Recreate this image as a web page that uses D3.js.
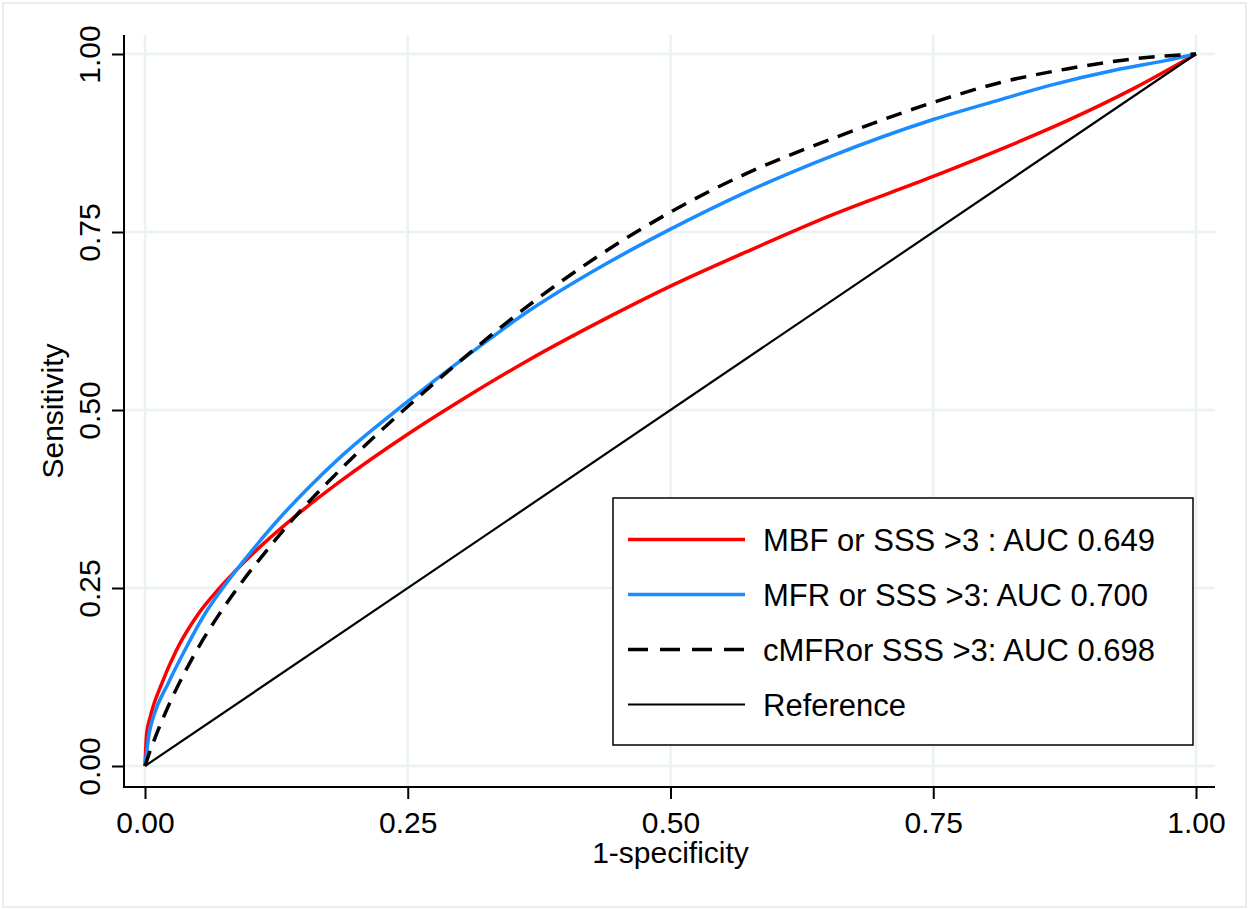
<!DOCTYPE html>
<html>
<head>
<meta charset="utf-8">
<style>
  body { margin: 0; background: #fff; }
  text { font-family: "Liberation Sans", Arial, sans-serif; fill: #000; }
</style>
</head>
<body>
<div id="roc"></div>
<script src="https://d3js.org/d3.v7.min.js"></script>
<script>

// ROC curves (1-specificity, sensitivity)

var mbfX = [0, 0.0016, 0.005, 0.016, 0.030, 0.049, 0.071, 0.106, 0.144, 0.186, 0.25, 0.30, 0.366, 0.43, 0.5, 0.572, 0.652, 0.75, 0.814, 0.877, 0.94, 1];
var mbfY = [0, 0.046, 0.069, 0.116, 0.163, 0.21, 0.25, 0.303, 0.352, 0.400, 0.466, 0.513, 0.571, 0.622, 0.674, 0.722, 0.773, 0.828, 0.866, 0.906, 0.951, 1];

var mfrX = [0, 0.004, 0.008, 0.022, 0.038, 0.0555, 0.076, 0.1015, 0.128, 0.157, 0.189, 0.25, 0.30, 0.366, 0.43, 0.5, 0.572, 0.652, 0.75, 0.814, 0.861, 0.9245, 0.972, 1];
var mfrY = [0, 0.046, 0.069, 0.116, 0.163, 0.21, 0.254, 0.302, 0.348, 0.393, 0.438, 0.512, 0.569, 0.640, 0.698, 0.754, 0.806, 0.856, 0.908, 0.936, 0.956, 0.978, 0.991, 1];

var cmfrX = [0, 0.005, 0.011, 0.024, 0.038, 0.055, 0.071, 0.091, 0.116, 0.141, 0.173, 0.205, 0.25, 0.30, 0.366, 0.43, 0.5, 0.572, 0.652, 0.75, 0.814, 0.877, 0.94, 1];
var cmfrY = [0, 0.022, 0.045, 0.090, 0.132, 0.177, 0.214, 0.256, 0.303, 0.347, 0.397, 0.444, 0.505, 0.569, 0.648, 0.715, 0.778, 0.832, 0.880, 0.932, 0.960, 0.979, 0.993, 1];

var refX = [0, 1];
var refY = [0, 1];

var seriesNames = ["MBF or SSS >3 : AUC 0.649",
                   "MFR or SSS >3: AUC 0.700",
                   "cMFRor SSS >3: AUC 0.698",
                   "Reference"];

var ticks = [0, 0.25, 0.5, 0.75, 1];
var tickLabels = ["0.00", "0.25", "0.50", "0.75", "1.00"];

// *****************
// Layout
// *****************

var W = 1248, H = 909;
var plotL = 124, plotR = 1215, plotT = 35, plotB = 787;

var x = d3.scaleLinear().domain([0, 1]).range([145, 1196]);
var y = d3.scaleLinear().domain([0, 1]).range([766, 54]);

var svg = d3.select("#roc").append("svg")
    .attr("width", W)
    .attr("height", H);

// outer frame
svg.append("rect")
    .attr("x", 3).attr("y", 3)
    .attr("width", 1243).attr("height", 904)
    .attr("fill", "#fff")
    .attr("stroke", "#e6eef0")
    .attr("stroke-width", 2);

// grid
var grid = svg.append("g").attr("stroke", "#eaf2f3").attr("stroke-width", 2.5);
grid.selectAll(".vg").data(ticks).enter().append("line")
    .attr("x1", function(d) { return x(d); })
    .attr("x2", function(d) { return x(d); })
    .attr("y1", plotT).attr("y2", plotB);
grid.selectAll(".hg").data(ticks).enter().append("line")
    .attr("y1", function(d) { return y(d); })
    .attr("y2", function(d) { return y(d); })
    .attr("x1", plotL).attr("x2", plotR);

// *****************
// Axes
// *****************

var yAxis = svg.append("g")
    .attr("transform", "translate(" + plotL + ",0)")
    .call(d3.axisLeft(y).tickValues(ticks)
          .tickFormat(function(d, i) { return tickLabels[i]; })
          .tickSize(12).tickSizeOuter(0));
yAxis.select(".domain").remove();
yAxis.selectAll("line").attr("stroke", "#000").attr("stroke-width", 2);
yAxis.selectAll("text")
    .attr("x", null).attr("dy", null)
    .attr("transform", "translate(-24,0) rotate(-90)")
    .attr("text-anchor", "middle")
    .attr("font-size", 30)
    .attr("font-family", "Liberation Sans, Arial, sans-serif");

var xAxis = svg.append("g")
    .attr("transform", "translate(0," + plotB + ")")
    .call(d3.axisBottom(x).tickValues(ticks)
          .tickFormat(function(d, i) { return tickLabels[i]; })
          .tickSize(12).tickSizeOuter(0));
xAxis.select(".domain").remove();
xAxis.selectAll("line").attr("stroke", "#000").attr("stroke-width", 2);
xAxis.selectAll("text")
    .attr("y", 46).attr("dy", null)
    .attr("font-size", 30)
    .attr("font-family", "Liberation Sans, Arial, sans-serif");

// axis lines
svg.append("line")
    .attr("x1", plotL).attr("x2", plotL)
    .attr("y1", plotT).attr("y2", plotB + 1)
    .attr("stroke", "#000").attr("stroke-width", 2);
svg.append("line")
    .attr("x1", plotL - 1).attr("x2", plotR)
    .attr("y1", plotB).attr("y2", plotB)
    .attr("stroke", "#000").attr("stroke-width", 2);

// titles
svg.append("text")
    .attr("transform", "translate(63," + ((plotT + plotB) / 2) + ") rotate(-90)")
    .attr("text-anchor", "middle")
    .attr("font-size", 30)
    .text("Sensitivity");

svg.append("text")
    .attr("x", (x(0) + x(1)) / 2)
    .attr("y", 863)
    .attr("text-anchor", "middle")
    .attr("font-size", 30)
    .text("1-specificity");

// *****************
// Curves
// *****************

function pts(xs, ys) {
  return xs.map(function(v, i) { return [v, ys[i]]; });
}

var series = [
  {data: pts(mbfX, mbfY),   color: "#ff0000", width: 3.5, dash: null},
  {data: pts(mfrX, mfrY),   color: "#1a8cff", width: 3.5, dash: null},
  {data: pts(cmfrX, cmfrY), color: "#000000", width: 3.5, dash: "16,10"},
  {data: pts(refX, refY),   color: "#000000", width: 2.2, dash: null}
];

var line = d3.line()
    .x(function(d) { return x(d[0]); })
    .y(function(d) { return y(d[1]); })
    .curve(d3.curveMonotoneX);

svg.selectAll(".curve").data(series).enter().append("path")
    .attr("class", "curve")
    .attr("d", function(d) { return line(d.data); })
    .attr("fill", "none")
    .attr("stroke", function(d) { return d.color; })
    .attr("stroke-width", function(d) { return d.width; })
    .attr("stroke-dasharray", function(d) { return d.dash; });

// *****************
// Legend
// *****************

var leg = svg.append("g");
leg.append("rect")
    .attr("x", 613).attr("y", 498)
    .attr("width", 580).attr("height", 247)
    .attr("fill", "#fff")
    .attr("stroke", "#000")
    .attr("stroke-width", 1.5);

var rowY = [539.5, 594.5, 649.5, 704.5];

leg.selectAll(".lline").data(series).enter().append("line")
    .attr("x1", 628).attr("x2", 745)
    .attr("y1", function(d, i) { return rowY[i]; })
    .attr("y2", function(d, i) { return rowY[i]; })
    .attr("stroke", function(d) { return d.color; })
    .attr("stroke-width", function(d) { return d.width; })
    .attr("stroke-dasharray", function(d) { return d.dash ? "20,12" : null; });

leg.selectAll(".ltext").data(seriesNames).enter().append("text")
    .attr("x", 763)
    .attr("y", function(d, i) { return rowY[i] + 11; })
    .attr("font-size", 31)
    .text(function(d) { return d; });

</script>
</body>
</html>
